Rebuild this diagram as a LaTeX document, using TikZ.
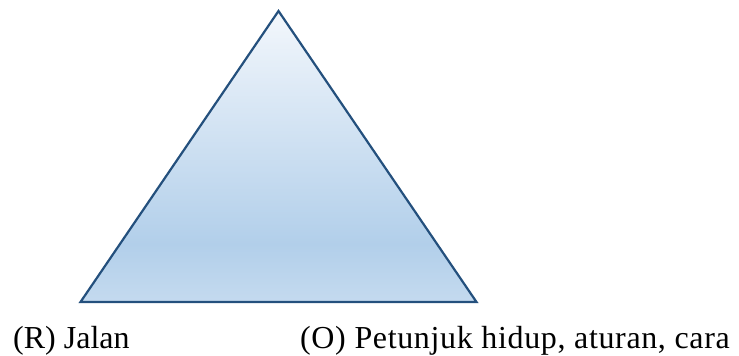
\documentclass[tikz,border=0pt]{standalone}
\usepackage{fontspec}
\setmainfont{Liberation Serif}
\usepackage{xcolor}
\usepackage{tikz}
\usetikzlibrary{positioning}

\definecolor{tritop}{HTML}{F3F7FC}
\definecolor{trimid}{HTML}{B2CFEA}
\definecolor{tribot}{HTML}{C4DAEF}
\definecolor{triline}{HTML}{24507D}
\pgfdeclareverticalshading{tripaint}{100bp}{color(0bp)=(tribot); color(25bp)=(tribot);
    color(35bp)=(trimid); color(75bp)=(tritop); color(100bp)=(tritop)}

\begin{document}
\begin{tikzpicture}[x=1pt, y=-1pt,
    tri/.style={draw=triline, line width=2.2pt, line join=miter, shading=tripaint},
    lbl/.style={anchor=base west, inner sep=0pt, font=\fontsize{32}{38}\selectfont}
]
    \useasboundingbox (0, 0) rectangle (739, 356);

    % Triangle
    \coordinate (apex)  at (278.5, 11);
    \coordinate (left)  at (80.5, 302);
    \coordinate (right) at (476.5, 302);
    \path[tri] (apex) -- (left) -- (right) -- cycle;

    % Labels under the base
    \node[lbl] (jalan) at (13, 348)  {(R) Jalan};
    \node[lbl] (petunjuk) at (300, 348) {\addfontfeature{LetterSpace=2}(O) Petunjuk hidup, aturan, cara};
\end{tikzpicture}
\end{document}
